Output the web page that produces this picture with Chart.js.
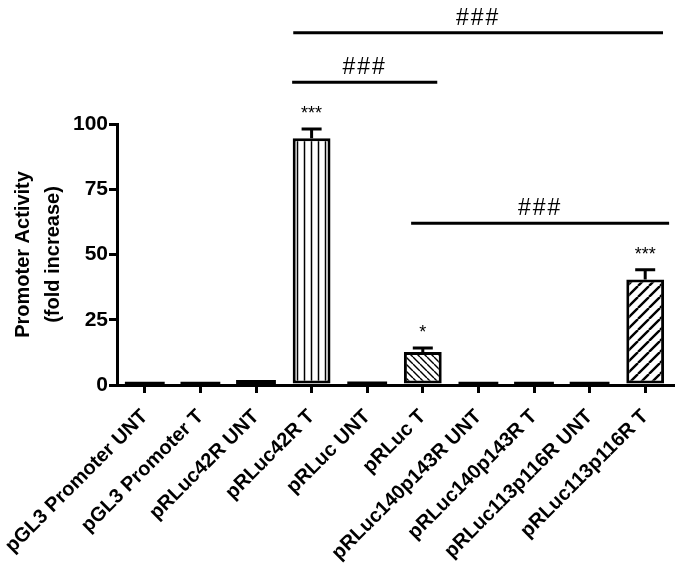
<!DOCTYPE html>
<html>
<head>
<meta charset="utf-8">
<script src="https://cdn.jsdelivr.net/npm/chart.js@4"></script>
<style>
  html, body { margin: 0; padding: 0; background: #fff; }
  #wrap { width: 686px; height: 575px; }
</style>
</head>
<body>
<div id="wrap"><canvas id="myChart"></canvas></div>
<script>
const labels = [
  'pGL3 Promoter UNT', 'pGL3 Promoter T', 'pRLuc42R UNT', 'pRLuc42R T', 'pRLuc UNT',
  'pRLuc T', 'pRLuc140p143R UNT', 'pRLuc140p143R T', 'pRLuc113p116R UNT', 'pRLuc113p116R T'
];
const values = [0.9, 0.9, 1.5, 94.5, 1.0, 12.6, 0.9, 0.9, 0.9, 40.4];
const errors = [0, 0, 0, 3.6, 0, 1.6, 0, 0, 0, 3.8];
const stars = ['', '', '', '***', '', '*', '', '', '', '***'];
const hatches = ['', '', '', 'vertical', '', 'backslash', '', '', '', 'slash'];
const yTicks = [0, 25, 50, 75, 100];

// significance lines (category positions and heights in data units)
const sigFrom = [2.67, 2.65, 4.79];
const sigTo = [9.32, 5.26, 9.43];
const sigHeight = [135, 116, 62];
const sigText = ['###', '###', '###'];

function makePattern(kind) {
  const c = document.createElement('canvas');
  const s = kind === 'slash' ? 11 : 7;
  c.width = s; c.height = s;
  const g = c.getContext('2d');
  g.fillStyle = '#fff';
  g.fillRect(0, 0, s, s);
  g.strokeStyle = '#000';
  g.beginPath();
  if (kind === 'vertical') {
    g.lineWidth = 1.5;
    g.moveTo(s / 2, 0); g.lineTo(s / 2, s);
  } else if (kind === 'backslash') {
    g.lineWidth = 1.4;
    for (let x0 = -s; x0 <= s; x0 += s) { g.moveTo(x0, 0); g.lineTo(x0 + s, s); }
  } else {
    g.lineWidth = 2.4;
    for (let x0 = -s; x0 <= s; x0 += s) { g.moveTo(x0, s); g.lineTo(x0 + s, 0); }
  }
  g.stroke();
  return g.createPattern(c, 'repeat');
}

// tiny unhatched bars print as solid black blocks in the original
const fills = hatches.map(h => h ? makePattern(h) : '#000');
const borders = hatches.map(h => h ? 3 : 0);
const inflate = hatches.map(h => h ? 0 : 1);

const overlay = {
  id: 'overlay',
  afterDatasetsDraw(chart) {
    const ctx = chart.ctx;
    const x = chart.scales.x, y = chart.scales.y;
    const bars = chart.getDatasetMeta(0).data;
    ctx.save();
    ctx.strokeStyle = '#000';
    ctx.fillStyle = '#000';
    ctx.lineWidth = 3;
    values.forEach((v, i) => {
      if (!errors[i]) return;
      const cx = bars[i].x;
      const top = y.getPixelForValue(v + errors[i]);
      ctx.beginPath();
      ctx.moveTo(cx, bars[i].y);
      ctx.lineTo(cx, top);
      ctx.moveTo(cx - 10, top);
      ctx.lineTo(cx + 10, top);
      ctx.stroke();
      ctx.font = '18px "Liberation Sans", Arial, sans-serif';
      ctx.textAlign = 'center';
      ctx.textBaseline = 'alphabetic';
      ctx.fillText(stars[i], cx, top - 10);
    });
    ctx.lineWidth = 3;
    ctx.font = '23px "Liberation Sans", Arial, sans-serif';
    ctx.letterSpacing = '2px';
    sigText.forEach((t, i) => {
      const x1 = x.getPixelForValue(sigFrom[i]);
      const x2 = x.getPixelForValue(sigTo[i]);
      const yy = y.getPixelForValue(sigHeight[i]);
      ctx.beginPath();
      ctx.moveTo(x1, yy);
      ctx.lineTo(x2, yy);
      ctx.stroke();
      ctx.fillText(t, (x1 + x2) / 2, yy - 8);
    });
    ctx.restore();
  }
};

new Chart(document.getElementById('myChart'), {
  type: 'bar',
  data: {
    labels: labels,
    datasets: [{
      data: values,
      backgroundColor: fills,
      borderColor: '#000',
      borderWidth: borders,
      inflateAmount: inflate,
      borderSkipped: false,
      barPercentage: 0.68,
      categoryPercentage: 1.0
    }]
  },
  options: {
    responsive: true,
    maintainAspectRatio: false,
    animation: false,
    layout: { padding: { top: 124, right: 13, left: 0, bottom: 0 } },
    plugins: { legend: { display: false }, tooltip: { enabled: false } },
    scales: {
      x: {
        grid: { display: true, drawOnChartArea: false, offset: false, color: '#000', lineWidth: 3, tickLength: 8 },
        border: { display: true, color: '#000', width: 3 },
        ticks: {
          color: '#000',
          font: { family: '"Liberation Sans", Arial, sans-serif', size: 20, weight: 'bold' },
          minRotation: 45, maxRotation: 45, padding: 12, autoSkip: false
        },
        afterFit(scale) {
          scale.paddingLeft = 0;
          scale.paddingRight = 0;
          scale.height = 190;
        }
      },
      y: {
        min: 0, max: 100,
        afterBuildTicks(scale) { scale.ticks = yTicks.map(v => ({ value: v })); },
        grid: { display: true, drawOnChartArea: false, color: '#000', lineWidth: 3, tickLength: 8 },
        border: { display: true, color: '#000', width: 3 },
        ticks: {
          color: '#000',
          font: { family: '"Liberation Sans", Arial, sans-serif', size: 21, weight: 'bold' },
          padding: 1
        },
        title: {
          display: true,
          text: ['Promoter Activity', '(fold increase)'],
          color: '#000',
          font: { family: '"Liberation Sans", Arial, sans-serif', size: 20, weight: 'bold', lineHeight: 1.5 },
          padding: { top: 8, bottom: 6 }
        },
        afterFit(scale) { scale.width = 117; }
      }
    }
  },
  plugins: [overlay]
});
</script>
</body>
</html>
